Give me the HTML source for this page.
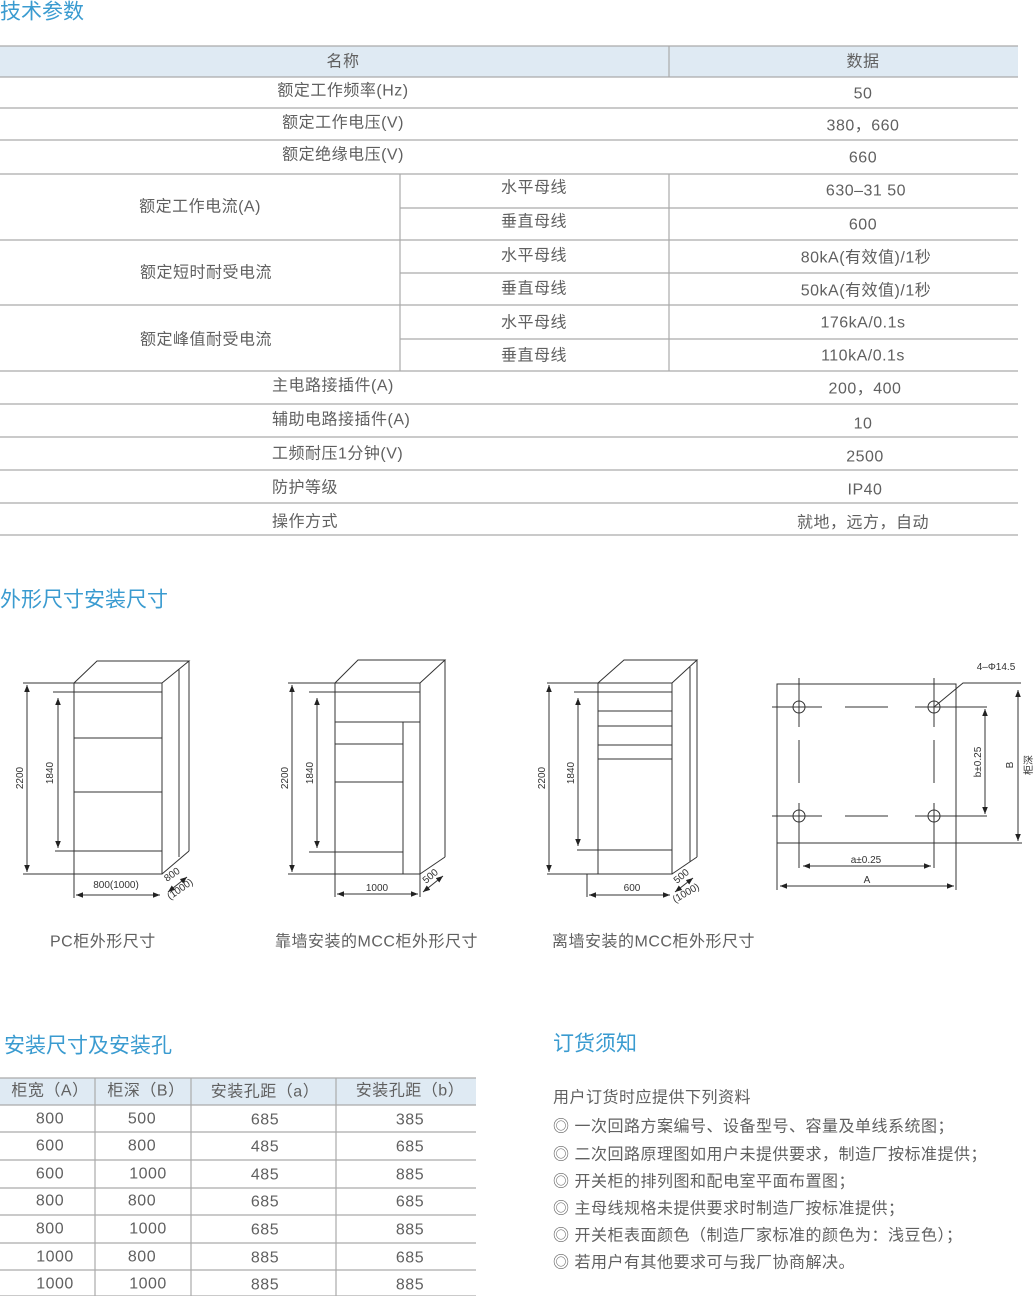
<!DOCTYPE html>
<html><head><meta charset="utf-8"><style>
html,body{margin:0;padding:0;background:#fff;}
svg{display:block;}
text{font-family:"Liberation Sans","Noto Sans CJK SC",sans-serif;fill:#606060;}
.t{font-size:16px;letter-spacing:0.5px;}
.h{font-size:21px;fill:#3a9bd0;letter-spacing:0;}
.s{font-size:10px;fill:#333;letter-spacing:0;}
.g{stroke:#aaa;stroke-width:1.2;fill:none;}
.d{stroke:#333;stroke-width:1;fill:none;}
</style></head><body>
<svg width="1034" height="1296" viewBox="0 0 1034 1296" xmlns="http://www.w3.org/2000/svg">
<defs><marker id="a" viewBox="0 0 10 10" refX="10" refY="5" markerWidth="7" markerHeight="7" orient="auto-start-reverse"><path d="M0,1 L10,5 L0,9 z" fill="#222"/></marker></defs>

<text class="h" x="0" y="12" dominant-baseline="central">技术参数</text>
<rect x="0" y="46" width="1018" height="31" fill="#dfeaf3"/>
<g class="g">
<line x1="0" y1="46" x2="1018" y2="46"/>
<line x1="0" y1="77" x2="1018" y2="77"/>
<line x1="0" y1="108" x2="1018" y2="108"/>
<line x1="0" y1="140" x2="1018" y2="140"/>
<line x1="0" y1="174" x2="1018" y2="174"/>
<line x1="400" y1="208" x2="1018" y2="208"/>
<line x1="0" y1="240" x2="1018" y2="240"/>
<line x1="400" y1="273" x2="1018" y2="273"/>
<line x1="0" y1="305" x2="1018" y2="305"/>
<line x1="400" y1="339" x2="1018" y2="339"/>
<line x1="0" y1="371" x2="1018" y2="371"/>
<line x1="0" y1="404" x2="1018" y2="404"/>
<line x1="0" y1="437" x2="1018" y2="437"/>
<line x1="0" y1="470" x2="1018" y2="470"/>
<line x1="0" y1="503" x2="1018" y2="503"/>
<line x1="0" y1="535" x2="1018" y2="535"/>
<line x1="669" y1="46" x2="669" y2="77"/>
<line x1="669" y1="174" x2="669" y2="371"/>
<line x1="400" y1="174" x2="400" y2="371"/>
</g>
<g class="t" text-anchor="middle" dominant-baseline="central">
<text x="343" y="62">名称</text><text x="863" y="62">数据</text>
<text x="343" y="91">额定工作频率(Hz)</text><text x="863" y="94">50</text>
<text x="343" y="123">额定工作电压(V)</text><text x="863" y="126">380，660</text>
<text x="343" y="155">额定绝缘电压(V)</text><text x="863" y="158">660</text>
<text x="200" y="207">额定工作电流(A)</text>
<text x="534" y="188">水平母线</text><text x="866" y="191">630–31 50</text>
<text x="534" y="222">垂直母线</text><text x="863" y="225">600</text>
<text x="206" y="273">额定短时耐受电流</text>
<text x="534" y="256">水平母线</text><text x="866" y="258">80kA(有效值)/1秒</text>
<text x="534" y="289">垂直母线</text><text x="866" y="291">50kA(有效值)/1秒</text>
<text x="206" y="340">额定峰值耐受电流</text>
<text x="534" y="323">水平母线</text><text x="863" y="323">176kA/0.1s</text>
<text x="534" y="356">垂直母线</text><text x="863" y="356">110kA/0.1s</text>
<text x="865" y="389">200，400</text>
<text x="863" y="424">10</text>
<text x="865" y="457">2500</text>
<text x="865" y="490">IP40</text>
<text x="863" y="523">就地，远方，自动</text>
</g>
<g class="t" dominant-baseline="central">
<text x="272" y="386">主电路接插件(A)</text>
<text x="272" y="420">辅助电路接插件(A)</text>
<text x="272" y="454">工频耐压1分钟(V)</text>
<text x="272" y="488">防护等级</text>
<text x="272" y="522">操作方式</text>
</g>

<text class="h" x="0" y="600" dominant-baseline="central">外形尺寸安装尺寸</text>

<g class="d">
<rect x="74" y="683" width="88" height="191"/>
<polyline points="74,683 97,661 189,661 162,683"/>
<line x1="189" y1="661" x2="189" y2="851"/>
<line x1="179" y1="669" x2="179" y2="857"/>
<line x1="162" y1="874" x2="189" y2="851"/>
<line x1="53" y1="692" x2="162" y2="692"/>
<line x1="74" y1="738" x2="162" y2="738"/>
<line x1="74" y1="792" x2="162" y2="792"/>
<line x1="55" y1="851" x2="162" y2="851"/>
<line x1="23" y1="683" x2="74" y2="683"/>
<line x1="23" y1="874" x2="74" y2="874"/>
<line x1="74" y1="874" x2="74" y2="898"/>
<line x1="27" y1="685" x2="27" y2="872" marker-start="url(#a)" marker-end="url(#a)"/>
<line x1="58" y1="698" x2="58" y2="848" marker-start="url(#a)" marker-end="url(#a)"/>
<line x1="76" y1="895" x2="160" y2="895" marker-start="url(#a)" marker-end="url(#a)"/>
<line x1="168" y1="892" x2="187" y2="877" marker-start="url(#a)" marker-end="url(#a)"/>
</g>
<text class="s" x="116" y="888" text-anchor="middle">800(1000)</text>
<text class="s" transform="translate(23,778) rotate(-90)" text-anchor="middle">2200</text>
<text class="s" transform="translate(53,773) rotate(-90)" text-anchor="middle">1840</text>
<text class="s" transform="translate(167,882) rotate(-35)">800</text>
<text class="s" transform="translate(170,900) rotate(-35)">(1000)</text>

<g class="d">
<rect x="335" y="683" width="85" height="191"/>
<polyline points="335,683 358,660 445,660 420,683"/>
<line x1="445" y1="660" x2="445" y2="857"/>
<line x1="420" y1="874" x2="445" y2="857"/>
<line x1="309" y1="692" x2="420" y2="692"/>
<line x1="335" y1="722" x2="420" y2="722"/>
<line x1="403" y1="722" x2="403" y2="874"/>
<line x1="335" y1="744" x2="403" y2="744"/>
<line x1="335" y1="782" x2="403" y2="782"/>
<line x1="309" y1="852" x2="403" y2="852"/>
<line x1="288" y1="683" x2="335" y2="683"/>
<line x1="288" y1="874" x2="335" y2="874"/>
<line x1="335" y1="874" x2="335" y2="897"/>
<line x1="420" y1="874" x2="420" y2="897"/>
<line x1="292" y1="685" x2="292" y2="872" marker-start="url(#a)" marker-end="url(#a)"/>
<line x1="317" y1="698" x2="317" y2="848" marker-start="url(#a)" marker-end="url(#a)"/>
<line x1="337" y1="894" x2="418" y2="894" marker-start="url(#a)" marker-end="url(#a)"/>
<line x1="423" y1="892" x2="443" y2="876" marker-start="url(#a)" marker-end="url(#a)"/>
</g>
<text class="s" x="377" y="891" text-anchor="middle">1000</text>
<text class="s" transform="translate(288,778) rotate(-90)" text-anchor="middle">2200</text>
<text class="s" transform="translate(313,773) rotate(-90)" text-anchor="middle">1840</text>
<text class="s" transform="translate(426,884) rotate(-40)">500</text>

<g class="d">
<rect x="598" y="683" width="74" height="191"/>
<polyline points="598,683 624,660 697,660 672,683"/>
<line x1="697" y1="660" x2="697" y2="857"/>
<line x1="690" y1="667" x2="690" y2="862"/>
<line x1="672" y1="874" x2="697" y2="857"/>
<line x1="574" y1="692" x2="672" y2="692"/>
<line x1="598" y1="711" x2="672" y2="711"/>
<line x1="598" y1="726" x2="672" y2="726"/>
<line x1="598" y1="745" x2="672" y2="745"/>
<line x1="598" y1="759" x2="672" y2="759"/>
<line x1="577" y1="850" x2="672" y2="850"/>
<line x1="547" y1="683" x2="598" y2="683"/>
<line x1="547" y1="874" x2="598" y2="874"/>
<line x1="587" y1="874" x2="587" y2="897"/>
<line x1="549" y1="685" x2="549" y2="872" marker-start="url(#a)" marker-end="url(#a)"/>
<line x1="578" y1="698" x2="578" y2="846" marker-start="url(#a)" marker-end="url(#a)"/>
<line x1="589" y1="895" x2="670" y2="895" marker-start="url(#a)" marker-end="url(#a)"/>
<line x1="675" y1="892" x2="693" y2="878" marker-start="url(#a)" marker-end="url(#a)"/>
</g>
<text class="s" x="632" y="891" text-anchor="middle">600</text>
<text class="s" transform="translate(545,778) rotate(-90)" text-anchor="middle">2200</text>
<text class="s" transform="translate(574,773) rotate(-90)" text-anchor="middle">1840</text>
<text class="s" transform="translate(677,884) rotate(-40)">500</text>
<text class="s" transform="translate(675,903) rotate(-30)">(1000)</text>

<g class="d">
<rect x="777" y="684" width="179" height="159"/>
<line x1="799" y1="678" x2="799" y2="727"/><line x1="799" y1="740" x2="799" y2="783"/><line x1="799" y1="803" x2="799" y2="868"/>
<line x1="934" y1="678" x2="934" y2="727"/><line x1="934" y1="740" x2="934" y2="783"/><line x1="934" y1="803" x2="934" y2="868"/>
<line x1="772" y1="707" x2="822" y2="707"/><line x1="845" y1="707" x2="888" y2="707"/><line x1="915" y1="707" x2="987" y2="707"/>
<line x1="772" y1="816" x2="822" y2="816"/><line x1="845" y1="816" x2="888" y2="816"/><line x1="915" y1="816" x2="987" y2="816"/>
<circle cx="799" cy="707" r="6"/><circle cx="934" cy="707" r="6"/>
<circle cx="799" cy="816" r="6"/><circle cx="934" cy="816" r="6"/>
<polyline points="934,707 963,683 1021,683"/>
<line x1="985" y1="709" x2="985" y2="814" marker-start="url(#a)" marker-end="url(#a)"/>
<line x1="956" y1="843" x2="1022" y2="843"/>
<line x1="1018" y1="690" x2="1018" y2="841" marker-start="url(#a)" marker-end="url(#a)"/>
<line x1="777" y1="843" x2="777" y2="890"/>
<line x1="956" y1="843" x2="956" y2="890"/>
<line x1="803" y1="866" x2="931" y2="866" marker-start="url(#a)" marker-end="url(#a)"/>
<line x1="780" y1="886" x2="954" y2="886" marker-start="url(#a)" marker-end="url(#a)"/>
</g>
<text class="s" x="996" y="670" text-anchor="middle">4–Φ14.5</text>
<text class="s" x="866" y="863" text-anchor="middle">a±0.25</text>
<text class="s" x="867" y="883" text-anchor="middle">A</text>
<text class="s" transform="translate(981,762) rotate(-90)" text-anchor="middle">b±0.25</text>
<text class="s" transform="translate(1013,765) rotate(-90)" text-anchor="middle">B</text>
<text class="s" transform="translate(1032,765) rotate(-90)" text-anchor="middle">柜深</text>

<g class="t" dominant-baseline="central">
<text x="50" y="942">PC柜外形尺寸</text>
<text x="275" y="942">靠墙安装的MCC柜外形尺寸</text>
<text x="552" y="942">离墙安装的MCC柜外形尺寸</text>
</g>

<text class="h" x="4" y="1046" dominant-baseline="central">安装尺寸及安装孔</text>
<text class="h" x="553" y="1044" dominant-baseline="central">订货须知</text>

<rect x="0" y="1078" width="476" height="27" fill="#dfeaf3"/>
<g class="g">
<line x1="0" y1="1078" x2="476" y2="1078"/>
<line x1="0" y1="1105" x2="476" y2="1105"/>
<line x1="0" y1="1132" x2="476" y2="1132"/>
<line x1="0" y1="1160" x2="476" y2="1160"/>
<line x1="0" y1="1188" x2="476" y2="1188"/>
<line x1="0" y1="1215" x2="476" y2="1215"/>
<line x1="0" y1="1243" x2="476" y2="1243"/>
<line x1="0" y1="1270" x2="476" y2="1270"/>
<line x1="0" y1="1296" x2="476" y2="1296"/>
<line x1="95" y1="1078" x2="95" y2="1296"/>
<line x1="191" y1="1078" x2="191" y2="1296"/>
<line x1="336" y1="1078" x2="336" y2="1296"/>
</g>
<g class="t" text-anchor="middle" dominant-baseline="central">
<text x="50" y="1091">柜宽（A）</text><text x="146" y="1091">柜深（B）</text><text x="265" y="1092">安装孔距（a）</text><text x="410" y="1091">安装孔距（b）</text>
<text x="50" y="1119">800</text><text x="142" y="1119">500</text><text x="265" y="1120">685</text><text x="410" y="1120">385</text>
<text x="50" y="1146">600</text><text x="142" y="1146">800</text><text x="265" y="1147">485</text><text x="410" y="1147">685</text>
<text x="50" y="1174">600</text><text x="148" y="1174">1000</text><text x="265" y="1175">485</text><text x="410" y="1175">885</text>
<text x="50" y="1201">800</text><text x="142" y="1201">800</text><text x="265" y="1202">685</text><text x="410" y="1202">685</text>
<text x="50" y="1229">800</text><text x="148" y="1229">1000</text><text x="265" y="1230">685</text><text x="410" y="1230">885</text>
<text x="55" y="1257">1000</text><text x="142" y="1257">800</text><text x="265" y="1258">885</text><text x="410" y="1258">685</text>
<text x="55" y="1284">1000</text><text x="148" y="1284">1000</text><text x="265" y="1285">885</text><text x="410" y="1285">885</text>
</g>

<g class="t" dominant-baseline="central">
<text x="553" y="1098">用户订货时应提供下列资料</text>
<text x="553" y="1127">◎ 一次回路方案编号、设备型号、容量及单线系统图；</text>
<text x="553" y="1155">◎ 二次回路原理图如用户未提供要求，制造厂按标准提供；</text>
<text x="553" y="1182">◎ 开关柜的排列图和配电室平面布置图；</text>
<text x="553" y="1209">◎ 主母线规格未提供要求时制造厂按标准提供；</text>
<text x="553" y="1236">◎ 开关柜表面颜色（制造厂家标准的颜色为：浅豆色）；</text>
<text x="553" y="1263">◎ 若用户有其他要求可与我厂协商解决。</text>
</g>
</svg>
</body></html>
